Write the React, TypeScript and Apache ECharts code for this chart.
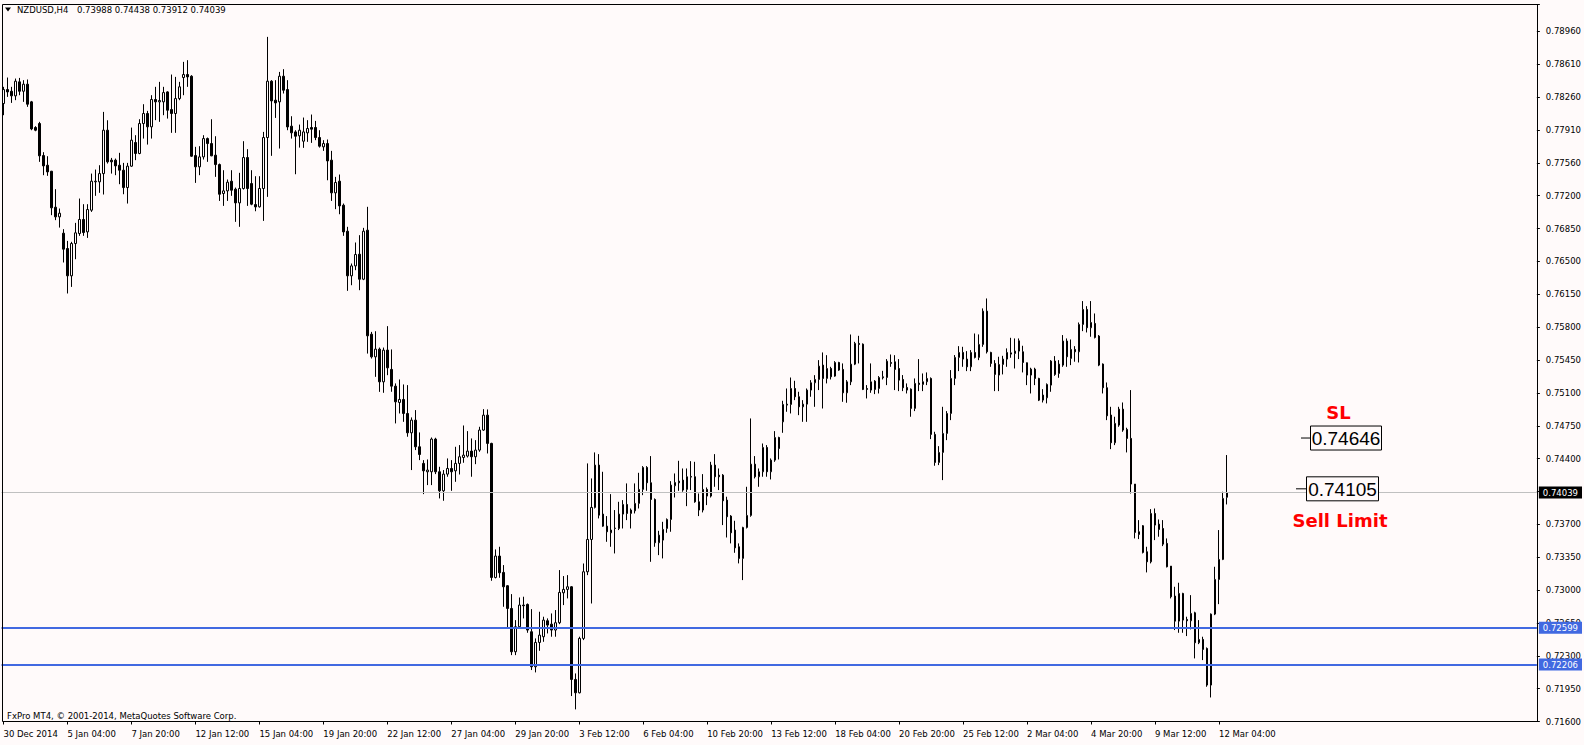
import React, { useEffect, useRef } from 'react';
import * as echarts from 'echarts';

// ---------- data ----------
// H4 bars, each [open, high, low, close]
const ohlc: number[][] = [
  [0.78182,0.78360,0.78058,0.78331],[0.78331,0.78459,0.78253,0.78306],[0.78313,0.78360,0.78189,0.78264],[0.78264,0.78448,0.78218,0.78420],
  [0.78413,0.78455,0.78271,0.78313],[0.78313,0.78431,0.78200,0.78388],[0.78388,0.78438,0.78147,0.78175],[0.78200,0.78210,0.77898,0.77912],
  [0.77927,0.77941,0.77887,0.77898],[0.77969,0.77987,0.77561,0.77625],[0.77628,0.77664,0.77419,0.77518],[0.77525,0.77621,0.77412,0.77454],
  [0.77461,0.77465,0.76993,0.77071],[0.77078,0.77270,0.76940,0.76975],[0.76975,0.77064,0.76861,0.77014],[0.76801,0.76844,0.76489,0.76631],
  [0.76638,0.76719,0.76159,0.76347],[0.76347,0.76709,0.76229,0.76691],[0.76691,0.76911,0.76524,0.76805],[0.76798,0.77170,0.76773,0.76947],
  [0.76947,0.77110,0.76773,0.76808],[0.76815,0.77110,0.76751,0.77053],[0.77046,0.77436,0.77028,0.77355],[0.77348,0.77479,0.77199,0.77355],
  [0.77348,0.77525,0.77231,0.77436],[0.77436,0.78093,0.77213,0.77898],[0.77898,0.78004,0.77543,0.77561],[0.77579,0.77603,0.77436,0.77561],
  [0.77579,0.77596,0.77419,0.77518],[0.77525,0.77657,0.77323,0.77472],[0.77472,0.77550,0.77216,0.77287],[0.77287,0.77550,0.77117,0.77515],
  [0.77515,0.77926,0.77508,0.77792],[0.77767,0.77845,0.77579,0.77650],[0.77650,0.78015,0.77642,0.77969],[0.77969,0.78175,0.77809,0.78076],
  [0.78076,0.78104,0.77745,0.77934],[0.77934,0.78271,0.77809,0.78225],[0.78225,0.78360,0.78005,0.78200],[0.78200,0.78413,0.77987,0.78214],
  [0.78200,0.78360,0.78058,0.78299],[0.78306,0.78313,0.78022,0.78111],[0.78118,0.78491,0.77870,0.78076],[0.78076,0.78466,0.77870,0.78235],
  [0.78235,0.78413,0.78218,0.78360],[0.78459,0.78626,0.78271,0.78491],[0.78491,0.78644,0.78360,0.78466],[0.78473,0.78484,0.77614,0.77621],
  [0.77628,0.77721,0.77337,0.77508],[0.77508,0.77728,0.77419,0.77614],[0.77614,0.77845,0.77586,0.77809],[0.77809,0.77820,0.77561,0.77756],
  [0.77756,0.78015,0.77621,0.77625],[0.77632,0.77834,0.77401,0.77532],[0.77532,0.77543,0.77145,0.77216],[0.77224,0.77472,0.77092,0.77252],
  [0.77252,0.77373,0.77145,0.77344],[0.77355,0.77472,0.77199,0.77259],[0.77270,0.77287,0.76922,0.77124],[0.77124,0.77444,0.76869,0.77277],
  [0.77277,0.77781,0.77266,0.77607],[0.77607,0.77696,0.77092,0.77277],[0.77330,0.77472,0.77099,0.77110],[0.77106,0.77408,0.77035,0.77081],
  [0.77082,0.77408,0.77074,0.77277],[0.77277,0.77880,0.76932,0.77820],[0.77820,0.78892,0.77188,0.78420],[0.78420,0.78431,0.77625,0.78210],
  [0.78218,0.78431,0.78029,0.78189],[0.78200,0.78519,0.77703,0.78473],[0.78473,0.78548,0.78289,0.78324],[0.78331,0.78431,0.77898,0.77933],
  [0.77941,0.78047,0.77809,0.77870],[0.77880,0.77898,0.77429,0.77834],[0.77838,0.77958,0.77713,0.77898],[0.77781,0.78033,0.77710,0.77880],
  [0.77870,0.78005,0.77774,0.77916],[0.77927,0.78065,0.77763,0.77909],[0.77927,0.77997,0.77792,0.77820],[0.77820,0.77898,0.77713,0.77728],
  [0.77721,0.77792,0.77678,0.77756],[0.77756,0.77799,0.77365,0.77571],[0.77579,0.77678,0.77145,0.77231],[0.77231,0.77401,0.77057,0.77341],
  [0.77355,0.77426,0.77003,0.77092],[0.77099,0.77117,0.76773,0.76815],[0.76822,0.76869,0.76187,0.76347],[0.76347,0.76478,0.76247,0.76453],
  [0.76453,0.76702,0.76407,0.76574],[0.76577,0.76780,0.76194,0.76311],[0.76311,0.76858,0.76301,0.76822],[0.76833,0.77082,0.75519,0.75708],
  [0.75725,0.75750,0.75466,0.75484],[0.75484,0.75757,0.75271,0.75566],[0.75566,0.75583,0.75111,0.75218],[0.75218,0.75583,0.75101,0.75555],
  [0.75556,0.75811,0.75289,0.75367],[0.75350,0.75563,0.75112,0.75172],[0.75172,0.75201,0.74775,0.75005],[0.74998,0.75243,0.74881,0.75030],
  [0.75030,0.75190,0.74792,0.74881],[0.74881,0.75183,0.74633,0.74675],[0.74675,0.74839,0.74278,0.74810],[0.74810,0.74917,0.74491,0.74526],
  [0.74526,0.74679,0.74384,0.74444],[0.74349,0.74384,0.74022,0.74270],[0.74260,0.74391,0.74118,0.74278],[0.74260,0.74625,0.74118,0.74608],
  [0.74608,0.74622,0.74235,0.74260],[0.74260,0.74313,0.73976,0.74057],[0.74057,0.74278,0.73951,0.74235],[0.74235,0.74402,0.74207,0.74295],
  [0.74295,0.74384,0.74057,0.74260],[0.74270,0.74526,0.74153,0.74349],[0.74349,0.74544,0.74231,0.74420],[0.74412,0.74753,0.74356,0.74437],
  [0.74427,0.74693,0.74412,0.74480],[0.74480,0.74615,0.74207,0.74420],[0.74420,0.74597,0.74341,0.74491],[0.74491,0.74739,0.74473,0.74704],
  [0.74704,0.74927,0.74696,0.74863],[0.74863,0.74924,0.74455,0.74562],[0.74562,0.74569,0.73099,0.73134],[0.73134,0.73433,0.73124,0.73362],
  [0.73362,0.73461,0.73131,0.73184],[0.73188,0.73266,0.72822,0.73035],[0.73046,0.73053,0.72591,0.72804],[0.72804,0.72957,0.72307,0.72343],
  [0.72343,0.72680,0.72307,0.72609],[0.72609,0.72921,0.72591,0.72840],[0.72840,0.72929,0.72698,0.72833],[0.72847,0.72857,0.72545,0.72574],
  [0.72556,0.72797,0.72148,0.72183],[0.72183,0.72485,0.72123,0.72442],[0.72442,0.72769,0.72353,0.72520],[0.72503,0.72716,0.72449,0.72680],
  [0.72673,0.72698,0.72538,0.72627],[0.72637,0.72751,0.72503,0.72574],[0.72574,0.72787,0.72503,0.72652],[0.72652,0.73213,0.72637,0.72975],
  [0.72971,0.73149,0.72840,0.73007],[0.73007,0.73159,0.72911,0.73035],[0.73035,0.73042,0.71871,0.72048],[0.72048,0.72112,0.71729,0.71906],
  [0.71906,0.72503,0.71899,0.72485],[0.72485,0.73283,0.72467,0.73195],[0.73195,0.74349,0.73159,0.73539],[0.73539,0.74189,0.72857,0.73880],
  [0.73880,0.74466,0.73869,0.74331],[0.74331,0.74448,0.73763,0.73798],[0.73809,0.74260,0.73674,0.73681],[0.73681,0.73788,0.73514,0.73621],
  [0.73610,0.74022,0.73461,0.73639],[0.73656,0.73852,0.73390,0.73660],[0.73656,0.73940,0.73639,0.73809],[0.73809,0.73958,0.73656,0.73912],
  [0.73912,0.74136,0.73745,0.73816],[0.73816,0.73869,0.73656,0.73852],[0.73844,0.74136,0.73816,0.73923],[0.73923,0.74249,0.73869,0.74072],
  [0.74072,0.74320,0.74011,0.74306],[0.74306,0.74320,0.74057,0.74143],[0.74143,0.74427,0.73301,0.73965],[0.73965,0.73976,0.73461,0.73504],
  [0.73504,0.73631,0.73372,0.73585],[0.73532,0.73727,0.73337,0.73646],[0.73656,0.73763,0.73610,0.73752],[0.73752,0.74160,0.73621,0.74118],
  [0.74111,0.74242,0.73986,0.74146],[0.74160,0.74377,0.74057,0.74143],[0.74171,0.74295,0.74047,0.74065],[0.74072,0.74295,0.73894,0.74207],
  [0.74203,0.74373,0.74065,0.74210],[0.74207,0.74366,0.73930,0.73940],[0.73940,0.74029,0.73788,0.73852],[0.73852,0.74235,0.73827,0.74072],
  [0.74072,0.74093,0.73905,0.74001],[0.74001,0.74366,0.73986,0.74331],[0.74331,0.74448,0.74100,0.74207],[0.74224,0.74295,0.74065,0.74207],
  [0.74224,0.74235,0.73692,0.73951],[0.73958,0.73994,0.73560,0.73781],[0.73788,0.73798,0.73497,0.73610],[0.73639,0.73738,0.73397,0.73450],
  [0.73461,0.73497,0.73284,0.73337],[0.73337,0.73674,0.73106,0.73667],[0.73667,0.74100,0.73656,0.73795],[0.73795,0.74828,0.73781,0.74341],
  [0.74341,0.74427,0.74189,0.74207],[0.74207,0.74295,0.74100,0.74260],[0.74260,0.74561,0.74207,0.74519],[0.74519,0.74544,0.74207,0.74260],
  [0.74260,0.74402,0.74178,0.74384],[0.74384,0.74693,0.74366,0.74625],[0.74625,0.74633,0.74391,0.74508],[0.74792,0.75016,0.74675,0.74977],
  [0.74970,0.75147,0.74899,0.74980],[0.74977,0.75264,0.74881,0.75147],[0.75147,0.75229,0.75023,0.75059],[0.75059,0.75112,0.74863,0.74952],
  [0.74952,0.75023,0.74792,0.74980],[0.74980,0.75147,0.74792,0.75130],[0.75130,0.75236,0.75059,0.75208],[0.75208,0.75289,0.74952,0.75243],
  [0.75243,0.75449,0.75130,0.75385],[0.75396,0.75531,0.74934,0.75254],[0.75254,0.75502,0.75201,0.75360],[0.75360,0.75378,0.75243,0.75272],
  [0.75279,0.75438,0.75272,0.75424],[0.75424,0.75431,0.75335,0.75343],[0.75350,0.75414,0.75005,0.75101],[0.75101,0.75236,0.74995,0.75218],
  [0.75218,0.75722,0.75183,0.75406],[0.75406,0.75644,0.75396,0.75627],[0.75627,0.75708,0.75414,0.75616],[0.75619,0.75627,0.75130,0.75137],
  [0.75147,0.75183,0.75041,0.75137],[0.75130,0.75414,0.75101,0.75218],[0.75225,0.75236,0.75087,0.75137],[0.75147,0.75279,0.75094,0.75264],
  [0.75261,0.75335,0.75243,0.75272],[0.75264,0.75460,0.75183,0.75438],[0.75424,0.75509,0.75378,0.75414],[0.75431,0.75502,0.75130,0.75350],
  [0.75360,0.75460,0.75119,0.75236],[0.75243,0.75290,0.75119,0.75155],[0.75158,0.75201,0.75094,0.75130],[0.75140,0.75148,0.74846,0.74935],
  [0.74935,0.75254,0.74906,0.75201],[0.75204,0.75460,0.75119,0.75190],[0.75190,0.75307,0.75119,0.75219],[0.75219,0.75318,0.75183,0.75254],
  [0.75254,0.75265,0.74608,0.74658],[0.74658,0.74686,0.74324,0.74359],[0.74359,0.74533,0.74331,0.74466],[0.74466,0.74952,0.74171,0.74668],
  [0.74668,0.74906,0.74597,0.74881],[0.74881,0.75343,0.74810,0.75254],[0.75254,0.75503,0.75183,0.75478],[0.75478,0.75598,0.75332,0.75531],
  [0.75531,0.75591,0.75378,0.75460],[0.75460,0.75545,0.75332,0.75378],[0.75378,0.75556,0.75332,0.75531],[0.75531,0.75733,0.75467,0.75478],
  [0.75478,0.75723,0.75449,0.75616],[0.75616,0.76000,0.75591,0.75971],[0.75971,0.76106,0.75520,0.75538],[0.75531,0.75538,0.75378,0.75414],
  [0.75414,0.75449,0.75119,0.75297],[0.75290,0.75485,0.75119,0.75403],[0.75403,0.75495,0.75297,0.75460],[0.75460,0.75574,0.75378,0.75531],
  [0.75513,0.75687,0.75474,0.75527],[0.75520,0.75680,0.75360,0.75545],[0.75545,0.75680,0.75460,0.75655],[0.75538,0.75602,0.75318,0.75424],
  [0.75421,0.75424,0.75183,0.75290],[0.75290,0.75368,0.75094,0.75353],[0.75353,0.75368,0.75183,0.75254],[0.75254,0.75261,0.75013,0.75023],
  [0.75023,0.75140,0.74998,0.75077],[0.75048,0.75201,0.74988,0.75190],[0.75183,0.75449,0.75112,0.75439],[0.75439,0.75492,0.75282,0.75297],
  [0.75307,0.75449,0.75261,0.75407],[0.75396,0.75716,0.75378,0.75652],[0.75652,0.75680,0.75378,0.75485],[0.75467,0.75669,0.75396,0.75563],
  [0.75563,0.75598,0.75432,0.75538],[0.75538,0.75850,0.75424,0.75829],[0.75829,0.76078,0.75758,0.75989],[0.75989,0.76024,0.75744,0.75794],
  [0.75794,0.76078,0.75698,0.75850],[0.75840,0.75946,0.75680,0.75691],[0.75705,0.75716,0.75385,0.75396],[0.75407,0.75414,0.75094,0.75155],
  [0.75155,0.75211,0.74810,0.74856],[0.74864,0.74952,0.74501,0.74569],[0.74569,0.74846,0.74544,0.74775],[0.74757,0.74952,0.74739,0.74927],
  [0.74927,0.74998,0.74686,0.74704],[0.74711,0.74729,0.74466,0.74615],[0.74615,0.75130,0.74029,0.74129],[0.74129,0.74129,0.73550,0.73614],
  [0.73621,0.73745,0.73543,0.73593],[0.73685,0.73692,0.73390,0.73401],[0.73408,0.73461,0.73188,0.73301],[0.73301,0.73862,0.73284,0.73816],
  [0.73816,0.73869,0.73532,0.73692],[0.73702,0.73752,0.73568,0.73646],[0.73656,0.73745,0.73468,0.73489],[0.73497,0.73550,0.73241,0.73248],
  [0.73255,0.73255,0.72911,0.72929],[0.72936,0.73035,0.72574,0.72669],[0.72669,0.73078,0.72545,0.72964],[0.72964,0.72971,0.72545,0.72680],
  [0.72687,0.72716,0.72510,0.72673],[0.72673,0.72946,0.72581,0.72751],[0.72758,0.72769,0.72272,0.72439],[0.72439,0.72680,0.72424,0.72474],
  [0.72474,0.72503,0.72254,0.72368],[0.72378,0.72389,0.71970,0.71988],[0.71988,0.72751,0.71856,0.72744],[0.72744,0.73248,0.72733,0.73113],
  [0.73113,0.73639,0.72850,0.73326],[0.73326,0.74047,0.73319,0.73976],[0.73988,0.74438,0.73912,0.74039],
];

const xTickLabels = [
  '30 Dec 2014', '5 Jan 04:00', '7 Jan 20:00', '12 Jan 12:00', '15 Jan 04:00', '19 Jan 20:00',
  '22 Jan 12:00', '27 Jan 04:00', '29 Jan 20:00', '3 Feb 12:00', '6 Feb 04:00', '10 Feb 20:00',
  '13 Feb 12:00', '18 Feb 04:00', '20 Feb 20:00', '25 Feb 12:00', '2 Mar 04:00', '4 Mar 20:00',
  '9 Mar 12:00', '12 Mar 04:00',
];
const yTickLabels = [
  '0.71600', '0.71950', '0.72300', '0.72650', '0.73000', '0.73350', '0.73700', '',
  '0.74400', '0.74750', '0.75100', '0.75450', '0.75800', '0.76150', '0.76500', '0.76850',
  '0.77200', '0.77560', '0.77910', '0.78260', '0.78610', '0.78960',
];
const Y_MIN = 0.716;
const Y_MAX = 0.79237;
const Y_STEP = 0.0035;
const BARS_PER_LABEL = 16;
const SLOTS = 384;

const currentPrice = 0.74039;
const levelLines = [0.72599, 0.72206];
const slPrice = 0.74646;
const sellLimitPrice = 0.74105;
const headerSymbol = 'NZDUSD,H4';
const headerValues = '0.73988 0.74438 0.73912 0.74039';
const footerText = 'FxPro MT4, \u00a9 2001-2014, MetaQuotes Software Corp.';

// ---------- styles ----------
const W = 1584;
const H = 745;
const BG = '#fffafa';
const BLUE = '#4169e1';
const FONT = '"DejaVu Sans", Verdana, sans-serif';
const BOX_FONT = '"Liberation Sans", Arial, sans-serif';

export default function App() {
  const ref = useRef<HTMLDivElement>(null);

  useEffect(() => {
    const el = ref.current;
    if (!el) return;
    const chart = echarts.init(el, undefined, { renderer: 'svg', width: W, height: H });

    const categories = Array.from({ length: SLOTS }, (_, i) => String(i));
    const showTick = (i: number) => i % BARS_PER_LABEL === 0 && i / BARS_PER_LABEL < xTickLabels.length;
    const data = ohlc.map(([o, h, l, c]) => [o, c, l, h]);

    const yLabel = (v: number) => {
      const k = Math.round((v - Y_MIN) / Y_STEP);
      if (k < 0 || k >= yTickLabels.length) return '';
      if (Math.abs(v - (Y_MIN + k * Y_STEP)) > 1e-7) return '';
      return yTickLabels[k];
    };

    chart.setOption({
      animation: false,
      backgroundColor: BG,
      grid: { left: 1.5, right: W - 1537.5, top: 4.5, bottom: H - 721.5, containLabel: false },
      xAxis: {
        type: 'category',
        data: categories,
        boundaryGap: true,
        axisLine: { show: false },
        axisTick: {
          show: true,
          interval: (i: number) => showTick(i),
          alignWithLabel: true,
          length: 3,
          lineStyle: { color: '#000', width: 1 },
        },
        axisLabel: {
          show: true,
          interval: (i: number) => showTick(i),
          formatter: (_v: string, i: number) => xTickLabels[i / BARS_PER_LABEL] ?? '',
          align: 'left',
          margin: 8,
          fontSize: 8.5,
          fontFamily: FONT,
          color: '#000',
        },
        splitLine: { show: false },
      },
      yAxis: {
        type: 'value',
        position: 'right',
        min: Y_MIN,
        max: Y_MAX,
        interval: Y_STEP,
        axisLine: { show: false },
        axisTick: { show: true, length: 3, lineStyle: { color: '#000', width: 1 } },
        axisLabel: {
          formatter: (v: number) => yLabel(v),
          margin: 9,
          fontSize: 8.5,
          fontFamily: FONT,
          color: '#000',
        },
        splitLine: { show: false },
      },
      series: [
        {
          type: 'candlestick',
          data,
          barWidth: 2,
          itemStyle: {
            color: BG,
            color0: '#000',
            borderColor: '#000',
            borderColor0: '#000',
            borderWidth: 1,
          },
          markLine: {
            silent: true,
            symbol: ['none', 'none'],
            precision: 5,
            animation: false,
            label: {
              show: true,
              position: 'end',
              distance: 2,
              formatter: (p: any) => Number(p.value).toFixed(5),
              fontFamily: FONT,
              fontSize: 8.5,
              color: '#fff',
              padding: [2, 4, 1, 4],
              lineHeight: 9,
            },
            data: [
              { yAxis: currentPrice, lineStyle: { color: '#c0c0c0', width: 1, type: 'solid' }, label: { backgroundColor: '#000' } },
              { yAxis: levelLines[0], lineStyle: { color: BLUE, width: 2, type: 'solid' }, label: { backgroundColor: BLUE } },
              { yAxis: levelLines[1], lineStyle: { color: BLUE, width: 2, type: 'solid' }, label: { backgroundColor: BLUE } },
            ],
          },
        },
      ],
    });

    const yOf = (p: number) => chart.convertToPixel({ yAxisIndex: 0 }, p) as number;
    const ySL = yOf(slPrice) + 2.5;
    const ySell = yOf(sellLimitPrice) + 2.5;

    const txt = (id: string, x: number, y: number, text: string, extra: any = {}) => ({
      type: 'text',
      id,
      x,
      y,
      z: 30,
      silent: true,
      style: {
        text,
        fill: '#000',
        fontSize: 8.5,
        fontFamily: FONT,
        align: 'left',
        verticalAlign: 'middle',
        textAlign: 'left',
        textVerticalAlign: 'middle',
        ...extra,
      },
    });

    chart.setOption({
      graphic: [
        {
          type: 'rect',
          id: 'frame',
          silent: true,
          z: 20,
          shape: { x: 2.5, y: 4.5, width: 1535, height: 717 },
          style: { fill: 'none', stroke: '#000', lineWidth: 1 },
        },
        { type: 'polygon', id: 'tri', silent: true, z: 30, shape: { points: [[5, 7.5], [11, 7.5], [8, 11.5]] }, style: { fill: '#000' } },
        txt('sym', 17, 10, headerSymbol),
        txt('vals', 77, 10, headerValues),
        txt('footer', 7, 716, footerText),
        // SL price label
        { type: 'line', id: 'slTick', silent: true, z: 30, shape: { x1: 1301, y1: ySL, x2: 1310, y2: ySL }, style: { stroke: '#000', lineWidth: 1 } },
        { type: 'rect', id: 'slBox', silent: true, z: 29, shape: { x: 1310.5, y: ySL - 12, width: 71, height: 24 }, style: { fill: BG, stroke: '#000', lineWidth: 1 } },
        txt('slText', 1346, ySL + 0.5, slPrice.toFixed(5), { fontSize: 19, fontFamily: BOX_FONT, align: 'center', textAlign: 'center' }),
        txt('slTitle', 1338.5, ySL - 25.5, 'SL', { fontSize: 18, fontWeight: 'bold', fill: '#ff0000', align: 'center', textAlign: 'center' }),
        // Sell limit price label
        { type: 'line', id: 'slmTick', silent: true, z: 30, shape: { x1: 1296, y1: ySell, x2: 1306, y2: ySell }, style: { stroke: '#000', lineWidth: 1 } },
        { type: 'rect', id: 'slmBox', silent: true, z: 29, shape: { x: 1306.5, y: ySell - 12, width: 72, height: 24 }, style: { fill: BG, stroke: '#000', lineWidth: 1 } },
        txt('slmText', 1342.5, ySell + 0.5, sellLimitPrice.toFixed(5), { fontSize: 19, fontFamily: BOX_FONT, align: 'center', textAlign: 'center' }),
        txt('slmTitle', 1340, ySell + 32, 'Sell Limit', { fontSize: 18, fontWeight: 'bold', fill: '#ff0000', align: 'center', textAlign: 'center' }),
      ],
    });

    return () => {
      chart.dispose();
    };
  }, []);

  return (
    <div
      ref={ref}
      style={{ position: 'fixed', left: 0, top: 0, width: W, height: H, background: BG }}
    />
  );
}
